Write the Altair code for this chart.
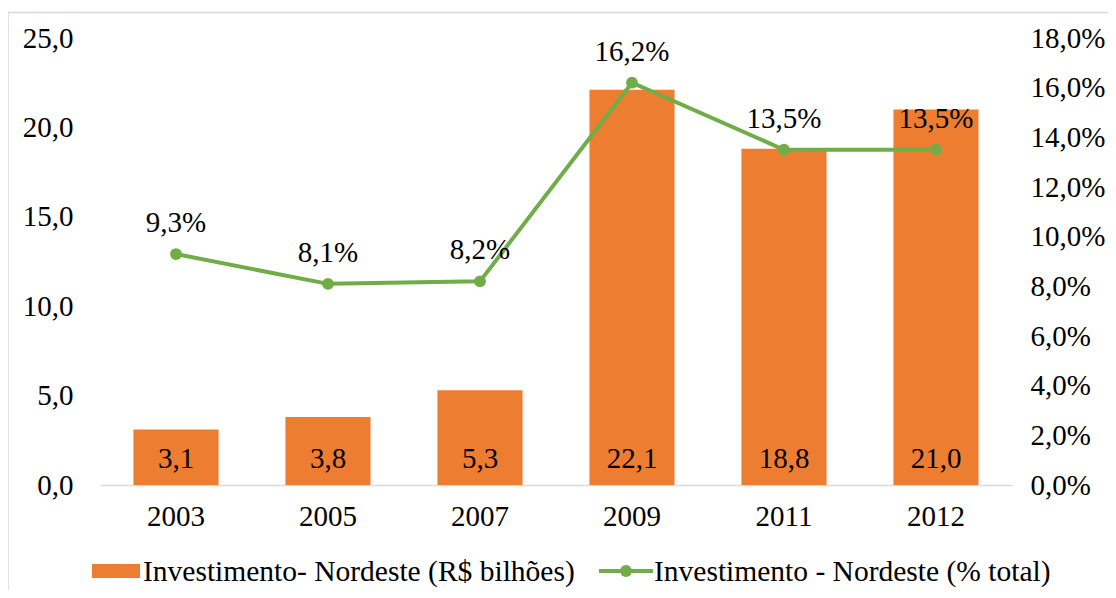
import altair as alt
import pandas as pd

years = ["2003", "2005", "2007", "2009", "2011", "2012"]
invest_bi = [3.1, 3.8, 5.3, 22.1, 18.8, 21.0]
invest_pct = [9.3, 8.1, 8.2, 16.2, 13.5, 13.5]
left_ticks = [0, 5, 10, 15, 20, 25]
right_ticks = [0, 2, 4, 6, 8, 10, 12, 14, 16, 18]
legend_bar = "Investimento- Nordeste (R$ bilhões)"
legend_line = "Investimento - Nordeste (% total)"

df = pd.DataFrame({"ano": years, "bi": invest_bi, "pct": invest_pct})
one = pd.DataFrame({"k": [0]})

FONT = "Liberation Serif"
FS = 29
FSL = 29.5
ORANGE = "#ED7D31"
GREEN = "#70AD47"
GRAY = "#D9D9D9"
W, H = 912, 447

xenc = alt.X(
    "ano:N", sort=years,
    scale=alt.Scale(paddingInner=0.44, paddingOuter=0.22),
    axis=alt.Axis(title=None, labelAngle=0, ticks=False, domainColor=GRAY,
                  domainWidth=1.3, labelFont=FONT, labelFontSize=FS,
                  labelColor="black", labelPadding=17),
)
xplain = alt.X("ano:N", sort=years)

base = alt.Chart(df)

yL = alt.Y(
    "bi:Q", scale=alt.Scale(domain=[0, 25], nice=False),
    axis=alt.Axis(title=None, values=left_ticks,
                  labelExpr="replace(format(datum.value,'.1f'),'.',',')",
                  ticks=False, domain=False, grid=False, labelFont=FONT,
                  labelFontSize=FS, labelColor="black", labelPadding=27),
)
bars = base.mark_bar(color=ORANGE).encode(x=xenc, y=yL)
bar_labels = base.transform_calculate(
    lbl="replace(format(datum.bi,'.1f'),'.',',')"
).mark_text(font=FONT, fontSize=FS, color="black", baseline="alphabetic", dy=-17).encode(
    x=xplain, y=alt.datum(0), text="lbl:N"
)
left = alt.layer(bars, bar_labels)

yR = alt.Y(
    "pct:Q", scale=alt.Scale(domain=[0, 18], nice=False),
    axis=alt.Axis(orient="right", title=None, values=right_ticks,
                  labelExpr="replace(format(datum.value,'.1f'),'.',',') + '%'",
                  ticks=False, domain=False, grid=False, labelFont=FONT,
                  labelFontSize=FS, labelColor="black", labelPadding=18),
)
line = base.mark_line(color=GREEN, strokeWidth=4).encode(x=xplain, y=yR)
pts = base.mark_point(filled=True, color=GREEN, size=140, opacity=1).encode(
    x=xplain, y=alt.Y("pct:Q"))
line_labels = base.transform_calculate(
    lbl="replace(format(datum.pct,'.1f'),'.',',') + '%'"
).mark_text(font=FONT, fontSize=FS, color="black", baseline="alphabetic", dy=-22).encode(
    x=xplain, y=alt.Y("pct:Q"), text="lbl:N"
)
right = alt.layer(line, pts, line_labels)

ob = alt.Chart(one)
border = ob.mark_rect(fillOpacity=0, stroke=GRAY, strokeWidth=1.5).encode(
    x=alt.value(-92), x2=alt.value(1100), y=alt.value(-25.5), y2=alt.value(700))
leg_rect = ob.mark_rect(color=ORANGE).encode(
    x=alt.value(-8), x2=alt.value(40), y=alt.value(526), y2=alt.value(540))
leg_text1 = ob.mark_text(font=FONT, fontSize=FSL, color="black", align="left",
                         baseline="middle", text=legend_bar).encode(
    x=alt.value(43), y=alt.value(534))
leg_rule = ob.mark_rule(color=GREEN, strokeWidth=4).encode(
    x=alt.value(499), x2=alt.value(553), y=alt.value(533))
leg_pt = ob.mark_point(filled=True, color=GREEN, size=140, opacity=1).encode(
    x=alt.value(526), y=alt.value(533))
leg_text2 = ob.mark_text(font=FONT, fontSize=FSL, color="black", align="left",
                         baseline="middle", text=legend_line).encode(
    x=alt.value(554), y=alt.value(534))
deco = alt.layer(border, leg_rect, leg_text1, leg_rule, leg_pt, leg_text2)

chart = alt.layer(left, right, deco).resolve_scale(y="independent").properties(
    width=W, height=H,
    autosize=alt.AutoSizeParams(type="none"),
    padding={"left": 92, "top": 30, "right": 96, "bottom": 105},
).configure_view(stroke=None)

chart.save("out.html", embed_options={"renderer": "svg", "actions": False})
